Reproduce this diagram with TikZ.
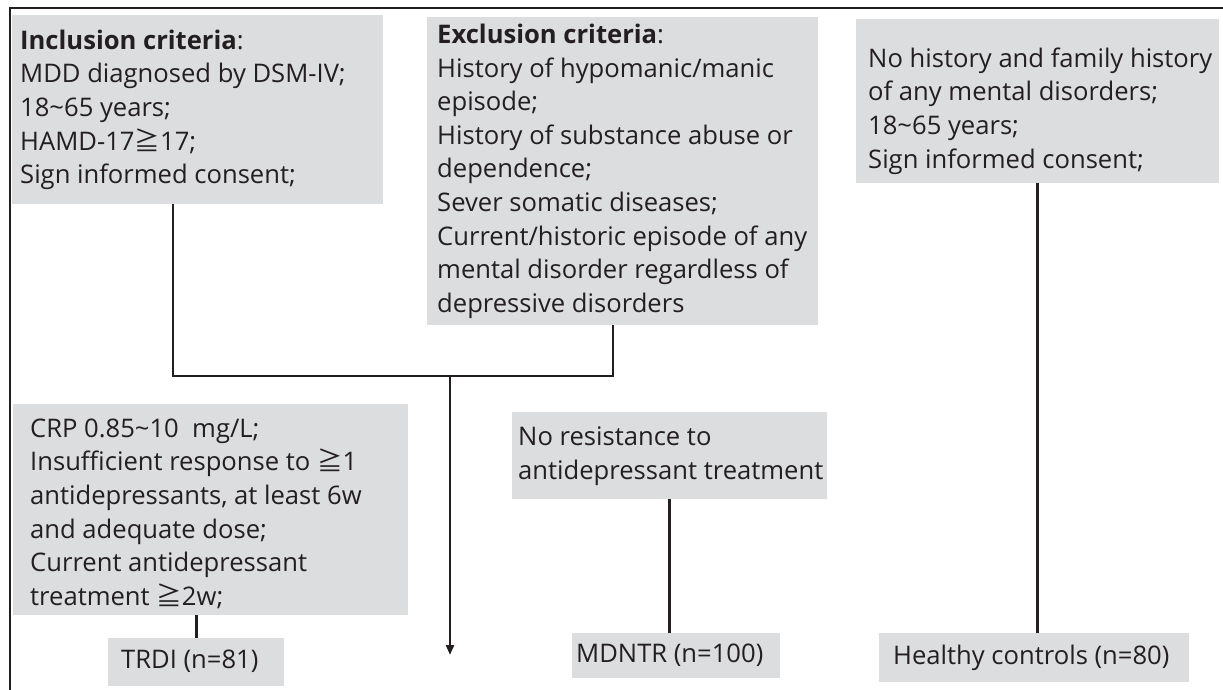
\documentclass[tikz,border=0pt]{standalone}
\usepackage{fontspec}
\setmainfont{Open Sans}
\newfontfamily\cjk{Noto Sans CJK SC}
\usetikzlibrary{arrows.meta}
\definecolor{boxgray}{RGB}{220,221,223}
\definecolor{ink}{RGB}{35,31,32}
% #1 box width, #2 left padding, #3 lines
\newcommand\boxtext[3]{\makebox[#1pt][l]{\begin{tabular}{@{\hspace{#2pt}}l@{}}#3\end{tabular}}}
\newcommand\gesym{{\cjk ≧}}
\newcommand\tildesym{\textasciitilde}
\begin{document}
\begin{tikzpicture}[x=1pt,y=-1pt,
  crit/.style={fill=boxgray, anchor=north west, inner sep=0pt,
    text=ink, font=\fontsize{25.6pt}{33.6pt}\selectfont},
  link/.style={draw=ink, line width=2.6pt},
  frame/.style={draw=ink, line width=2.6pt},
  arrowlink/.style={link, -{Triangle[length=10pt,width=8pt]}}]
\useasboundingbox (0,0) rectangle (1223,690);
% partial frame
\draw[frame] (10,690) -- (10,8) -- (1223,8);
% top criteria boxes
\node[crit, minimum width=371pt, minimum height=189pt] (inc) at (12,15)
  {\boxtext{371}{8}{\textbf{Inclusion criteria}:\\
   MDD diagnosed by DSM-IV;\\
   18\tildesym 65 years;\\
   HAMD-17\gesym 17;\\
   Sign informed consent;}};
\node[crit, minimum width=391pt, minimum height=308pt] (exc) at (427,17)
  {\boxtext{391}{10}{\textbf{Exclusion criteria}:\\
   History of hypomanic/manic\\
   episode;\\
   History of substance abuse or\\
   dependence;\\
   Sever somatic diseases;\\
   Current/historic episode of any\\
   mental disorder regardless of\\
   depressive disorders}};
\node[crit, minimum width=363pt, minimum height=164pt] (hc) at (856,19)
  {\boxtext{363}{12}{\rule{0pt}{43pt}No history and family history\\
   of any mental disorders;\\
   18\tildesym 65 years;\\
   Sign informed consent;}};
% second-level boxes
\node[crit, minimum width=395pt, minimum height=202pt] (crp) at (13,404)
  {\boxtext{395}{17}{\rule{0pt}{33pt}CRP 0.85\tildesym 10\ \ mg/L;\\
   Insufficient response to \gesym 1\\
   antidepressants, at least 6w\\
   and adequate dose;\\
   Current antidepressant\\
   treatment \gesym 2w;}};
\node[crit, minimum width=315pt, minimum height=87pt] (nores) at (512,412)
  {\boxtext{315}{6}{No resistance to\\
   antidepressant treatment}};
% group boxes
\node[crit, minimum width=176pt, minimum height=48pt] (trdi) at (108,638)
  {\boxtext{176}{13}{TRDI (n=81)}};
\node[crit, minimum width=208pt, minimum height=45pt] (mdntr) at (572,633)
  {\boxtext{208}{4}{MDNTR (n=100)}};
\node[crit, minimum width=310pt, minimum height=49pt] (hcn) at (879,633)
  {\boxtext{310}{14}{Healthy controls (n=80)}};
% junction coordinates
\coordinate (jl) at (173,376);
\coordinate (jr) at (613,376);
\coordinate (ja) at (450,376);
\coordinate (aend) at (450,655);
% connectors
\draw[link] (inc.south -| jl) -- (jl) -- (jr) -- (exc.south -| jr);
\draw[arrowlink] (ja) -- (aend);
\draw[link] (trdi.north |- crp.south) -- (trdi.north);
\draw[link] (nores.south) -- (nores.south |- mdntr.north);
\draw[link] (hc.south) -- (hc.south |- hcn.north);
\end{tikzpicture}
\end{document}
